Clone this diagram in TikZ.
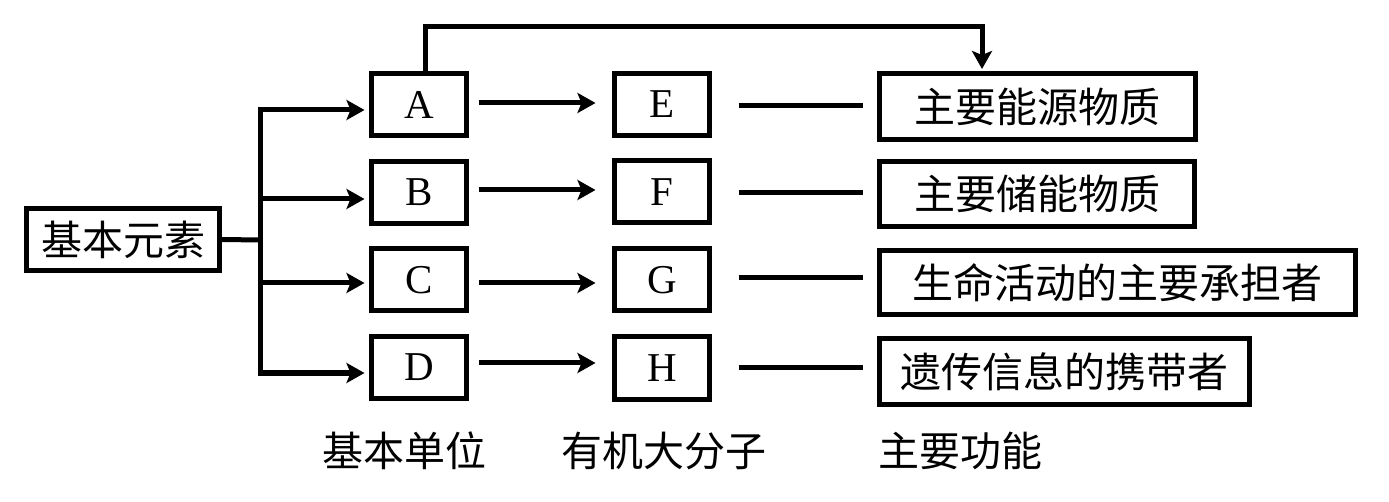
\documentclass[tikz,border=0pt]{standalone}
\usepackage{fontspec}
\setmainfont{Liberation Serif}
\newfontfamily\cjk{Noto Sans CJK SC}
\usetikzlibrary{arrows.meta,calc}
\tikzset{
  ln/.style={line width=5pt,line join=miter},
  arr/.style={ln,-{Stealth[length=18pt,width=20pt,inset=4pt]}},
  bx/.style={draw,line width=5pt,inner sep=0pt,align=center},
  letbox/.style={bx,minimum width=95pt,minimum height=62pt,font=\fontsize{41pt}{41pt}\selectfont},
  cnbox/.style={bx,font=\cjk\fontsize{41pt}{41pt}\selectfont},
  lab/.style={inner sep=0pt,font=\cjk\fontsize{41pt}{41pt}\selectfont}
}
\begin{document}
\begin{tikzpicture}[x=1pt,y=-1pt]
\useasboundingbox (0,0) rectangle (1389,502);
% left box
\node[cnbox,minimum width=193pt,minimum height=62pt] (base) at (123,239.5) {基本元素};
% basic units
\node[letbox] (A) at (419,105) {A};
\node[letbox] (B) at (419,192.5) {B};
\node[letbox] (C) at (419,280) {C};
\node[letbox] (D) at (419,367.5) {D};
% macromolecules
\node[letbox] (E) at (662,104.5) {E};
\node[letbox] (F) at (662,192) {F};
\node[letbox] (G) at (662,280) {G};
\node[letbox] (H) at (662,368) {H};
% functions
\node[cnbox,minimum width=316pt,minimum height=66pt] (R1) at (1037.5,106.5) {主要能源物质};
\node[cnbox,minimum width=315pt,minimum height=65pt] (R2) at (1037,194) {主要储能物质};
\node[cnbox,minimum width=476pt,minimum height=64pt] (R3) at (1117.5,282.5) {生命活动的主要承担者};
\node[cnbox,minimum width=370pt,minimum height=66pt] (R4) at (1064.5,371.5) {遗传信息的携带者};
% bottom labels
\node[lab] (L1) at (404,451) {基本单位};
\node[lab] (L2) at (664,451) {有机大分子};
\node[lab] (L3) at (960,451) {主要功能};
% branching
\coordinate (J) at (260,240);
\draw[ln] (base.east) -- (J);
\draw[arr,shorten >=4.5pt] (J) |- ([yshift=-5pt]A.west);
\draw[arr,shorten >=4.5pt] (J) |- ([yshift=-6.5pt]B.west);
\draw[arr,shorten >=4.5pt] (J) |- ([yshift=-3pt]C.west);
\draw[arr,shorten >=4.5pt] (J) |- ([yshift=-5.5pt]D.west);
% unit -> macromolecule
\draw[arr,shorten <=9.5pt,shorten >=16.5pt] ([yshift=2pt]A.east) -- ([yshift=2pt]A.east -| E.west);
\draw[arr,shorten <=9.5pt,shorten >=16.5pt] ([yshift=2.5pt]B.east) -- ([yshift=2.5pt]B.east -| F.west);
\draw[arr,shorten <=9.5pt,shorten >=16.5pt] ([yshift=-3pt]C.east) -- ([yshift=-3pt]C.east -| G.west);
\draw[arr,shorten <=9.5pt,shorten >=16.5pt] ([yshift=4.5pt]D.east) -- ([yshift=4.5pt]D.east -| H.west);
% macromolecule -- function
\draw[ln,shorten <=26.5pt,shorten >=14pt] ([yshift=-1.5pt]E.east) -- ([yshift=-1.5pt]E.east -| R1.west);
\draw[ln,shorten <=26.5pt,shorten >=14pt] ([yshift=-1pt]F.east) -- ([yshift=-1pt]F.east -| R2.west);
\draw[ln,shorten <=26.5pt,shorten >=14pt] ([yshift=2pt]G.east) -- ([yshift=2pt]G.east -| R3.west);
\draw[ln,shorten <=26.5pt,shorten >=14pt] (H.east) -- (H.east -| R4.west);
% top connector A -> R1
\coordinate (T) at (0,27);
\draw[arr,shorten >=2pt] ([xshift=6pt]A.north) -- ([xshift=6pt]A.north |- T) -| ([xshift=-55.5pt]R1.north);
\end{tikzpicture}
\end{document}
